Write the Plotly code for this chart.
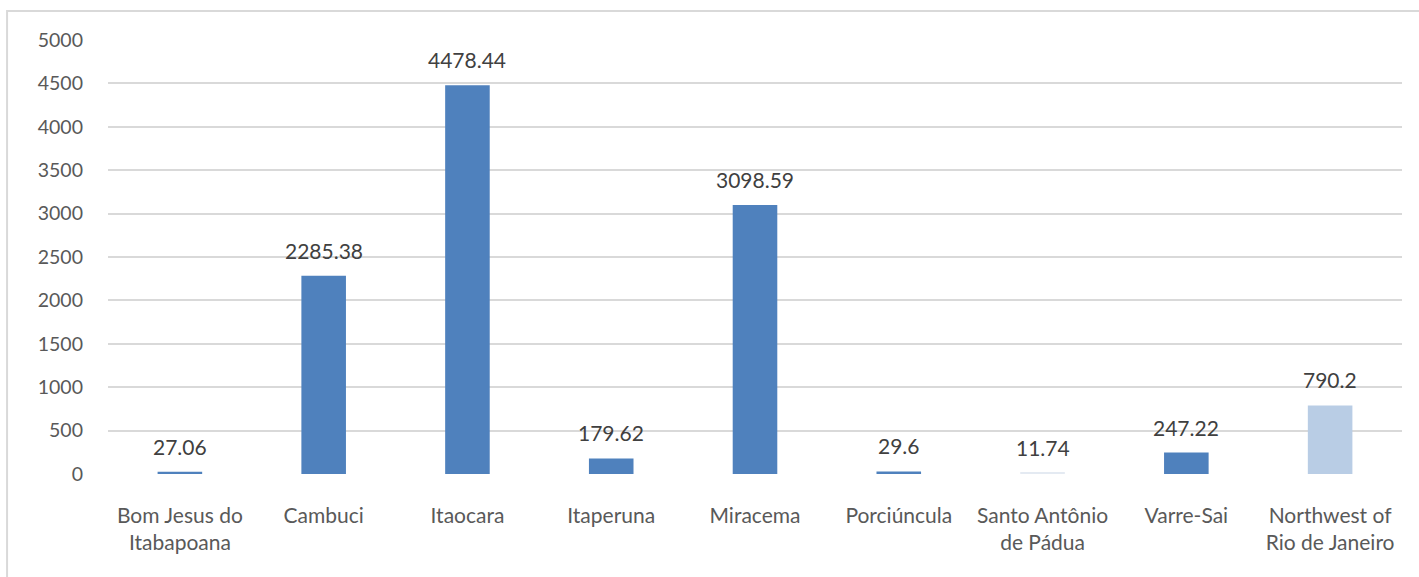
import plotly.graph_objects as go

categories = [
    "Bom Jesus do<br>Itabapoana", "Cambuci", "Itaocara", "Itaperuna", "Miracema",
    "Porciúncula", "Santo Antônio<br>de Pádua", "Varre-Sai", "Northwest of<br>Rio de Janeiro",
]
values = [27.06, 2285.38, 4478.44, 179.62, 3098.59, 29.6, 11.74, 247.22, 790.2]
value_labels = ["27.06", "2285.38", "4478.44", "179.62", "3098.59", "29.6", "11.74", "247.22", "790.2"]
bar_colors = ["#4F81BD"] * 6 + ["#E4EAF2", "#4F81BD", "#B9CDE5"]

y_ticks = [0, 500, 1000, 1500, 2000, 2500, 3000, 3500, 4000, 4500, 5000]

FONT = "Lato"

fig = go.Figure(
    go.Bar(
        x=categories,
        y=values,
        marker=dict(color=bar_colors, line=dict(width=0)),
        width=0.31,
        hoverinfo="skip",
    )
)

for cat, val, lab in zip(categories, values, value_labels):
    fig.add_annotation(
        x=cat, y=val, text=lab, showarrow=False,
        yanchor="bottom", yshift=11,
        font=dict(family=FONT, size=21, color="#404040"),
    )

# outer chart-area frame
fig.add_shape(
    type="rect", xref="paper", yref="paper",
    x0=-0.078, x1=1.05, y0=-0.4, y1=1.0668,
    line=dict(color="#D9D9D9", width=2), fillcolor="rgba(0,0,0,0)",
    layer="below",
)

fig.update_layout(
    width=1419, height=577,
    margin=dict(l=108, r=17, t=40, b=103),
    paper_bgcolor="white", plot_bgcolor="white",
    showlegend=False,
    bargap=0.69,
    font=dict(family=FONT, color="#595959"),
    xaxis=dict(
        showgrid=False, showline=False, zeroline=False,
        ticks="", tickfont=dict(family=FONT, size=21, color="#595959"),
        ticklabelstandoff=27,
    ),
    yaxis=dict(
        range=[0, 5000], tickvals=y_ticks, ticktext=[str(v) for v in y_ticks],
        showgrid=True, gridcolor="#D9D9D9", gridwidth=1.5,
        zeroline=False, showline=False, ticks="",
        tickfont=dict(family=FONT, size=19.5, color="#595959"),
        ticklabelstandoff=24,
    ),
)

fig.write_html("out.html")
